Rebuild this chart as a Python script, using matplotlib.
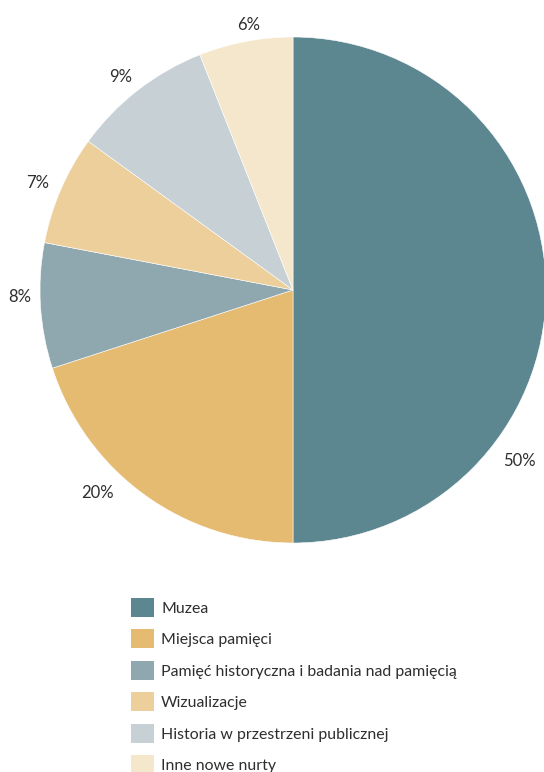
import numpy as np
import matplotlib
matplotlib.use("Agg")
import matplotlib.pyplot as plt
from matplotlib.patches import Patch

plt.rcParams['font.family'] = ['Lato', 'DejaVu Sans']

categories = [
    "Muzea",
    "Miejsca pamięci",
    "Pamięć historyczna i badania nad pamięcią",
    "Wizualizacje",
    "Historia w przestrzeni publicznej",
    "Inne nowe nurty",
]
shares = [50, 20, 8, 7, 9, 6]
colors = ["#5C8690", "#E4BB71", "#8FA7AE", "#EDCF9C", "#C7D0D4", "#F5E7CC"]
text_color = "#2E2E2E"

# label placement around the rim: (angle in degrees, distance in radii)
label_pos = [(-37, 1.12), (-134, 1.115), (-178.5, 1.08),
             (157.3, 1.095), (128.9, 1.083), (99.6, 1.063)]

W, H = 544, 772
fig = plt.figure(figsize=(W / 100, H / 100), dpi=100)

# pie axes: centre (293, 290) px, radius 253 px
cx, cy, r = 293, 290, 253
ax = fig.add_axes([(cx - r) / W, (H - cy - r) / H, 2 * r / W, 2 * r / H])
wedges, texts = ax.pie(
    shares, colors=colors, startangle=90, counterclock=False,
    radius=1.0, wedgeprops=dict(edgecolor="white", linewidth=0.4),
    labels=[f"{v}%" for v in shares], labeldistance=1.08,
    textprops=dict(color=text_color, fontsize=12),
)
ax.set_xlim(-1, 1)
ax.set_ylim(-1, 1)
ax.set_aspect("equal")
ax.axis("off")

for t, (a, d) in zip(texts, label_pos):
    a = np.deg2rad(a)
    t.set_position((d * np.cos(a), d * np.sin(a)))
    t.set_ha("center")
    t.set_va("center")
    t.set_clip_on(False)

handles = [Patch(facecolor=c, edgecolor="none") for c in colors]
leg = fig.legend(
    handles, categories, loc="upper left",
    bbox_to_anchor=(131 / W, 1 - 598 / H), bbox_transform=fig.transFigure,
    frameon=False, fontsize=11.4, handlelength=1.45, handleheight=1.45,
    labelspacing=0.8, handletextpad=0.45, borderpad=0, borderaxespad=0,
)
for t in leg.get_texts():
    t.set_color(text_color)

fig.savefig("out.png", dpi=100)
